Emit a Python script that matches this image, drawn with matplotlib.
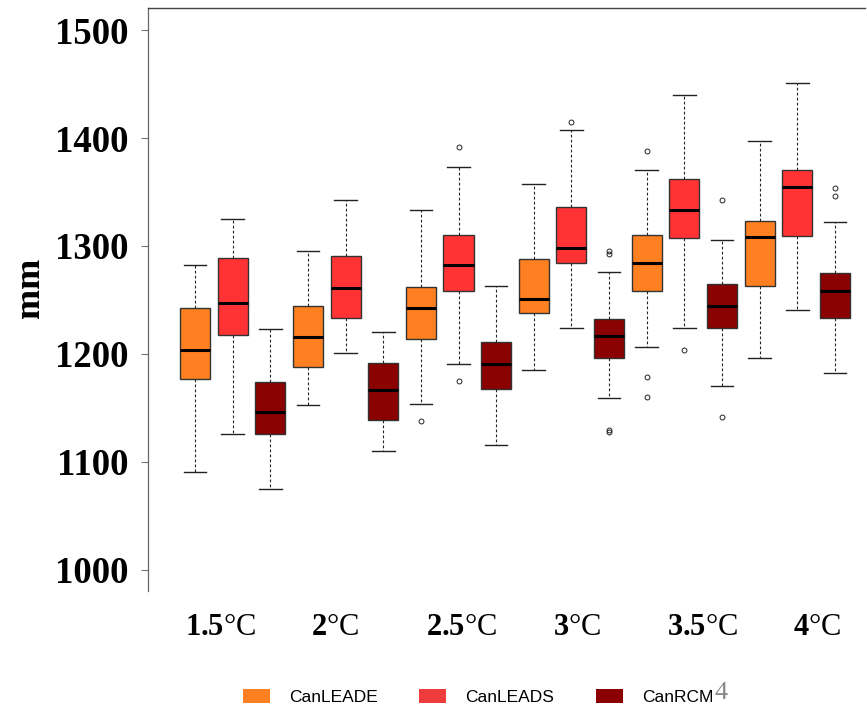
import matplotlib
matplotlib.use('Agg')
import matplotlib.pyplot as plt
from matplotlib.patches import Patch

plt.rcParams['mathtext.fontset'] = 'custom'
plt.rcParams['mathtext.rm'] = 'Liberation Serif'
plt.rcParams['mathtext.bf'] = 'Liberation Serif:bold'

# ---------------------------------------------------------------------
# data (mm), one value per warming level
# ---------------------------------------------------------------------
levels = ['1.5', '2', '2.5', '3', '3.5', '4']
models = ['CanLEADE', 'CanLEADS', 'CanRCM']

# CanLEADE
leade_whislo = [1091, 1153, 1154, 1185, 1206, 1196]
leade_q1     = [1177, 1188, 1214, 1238, 1258, 1263]
leade_med    = [1204, 1216, 1243, 1251, 1284, 1308]
leade_q3     = [1243, 1244, 1262, 1288, 1310, 1323]
leade_whishi = [1282, 1295, 1333, 1357, 1370, 1397]
leade_fliers = [[], [], [1138], [], [1388, 1179, 1160], []]

# CanLEADS
leads_whislo = [1126, 1201, 1191, 1224, 1224, 1241]
leads_q1     = [1218, 1233, 1258, 1284, 1307, 1309]
leads_med    = [1247, 1261, 1282, 1298, 1333, 1355]
leads_q3     = [1289, 1291, 1310, 1336, 1362, 1370]
leads_whishi = [1325, 1343, 1373, 1407, 1440, 1451]
leads_fliers = [[], [], [1392, 1175], [1415], [1204], []]

# CanRCM4
rcm_whislo = [1075, 1110, 1116, 1159, 1170, 1182]
rcm_q1     = [1126, 1139, 1168, 1196, 1224, 1233]
rcm_med    = [1146, 1167, 1191, 1217, 1244, 1258]
rcm_q3     = [1174, 1192, 1211, 1232, 1265, 1275]
rcm_whishi = [1223, 1220, 1263, 1276, 1306, 1322]
rcm_fliers = [[], [], [], [1295, 1293, 1130, 1128], [1343, 1142], [1354, 1346]]

colors = ['#FF8020', '#FF3333', '#8B0000']
legend_colors = ['#FF8020', '#EE3B3B', '#8B0000']

series = [
    (leade_whislo, leade_q1, leade_med, leade_q3, leade_whishi, leade_fliers),
    (leads_whislo, leads_q1, leads_med, leads_q3, leads_whishi, leads_fliers),
    (rcm_whislo, rcm_q1, rcm_med, rcm_q3, rcm_whishi, rcm_fliers),
]

# ---------------------------------------------------------------------
# figure
# ---------------------------------------------------------------------
fig = plt.figure(figsize=(8.67, 7.09), dpi=100)
ax = fig.add_axes([148 / 867, 1 - 591 / 709, 717 / 867, 583 / 709])

n_mod = len(models)
for m, (wlo, q1, med, q3, whi, fl) in enumerate(series):
    stats = []
    for i in range(len(levels)):
        stats.append(dict(whislo=wlo[i], q1=q1[i], med=med[i], q3=q3[i],
                          whishi=whi[i], fliers=fl[i]))
    pos = [1 + i * n_mod + m for i in range(len(levels))]
    ax.bxp(stats, positions=pos, widths=0.8, capwidths=0.6,
           patch_artist=True, showfliers=True,
           boxprops=dict(facecolor=colors[m], edgecolor='#333333', linewidth=1.0),
           medianprops=dict(color='black', linewidth=2.2),
           whiskerprops=dict(color='#222222', linewidth=0.8, linestyle=(0, (2.5, 2))),
           capprops=dict(color='#222222', linewidth=1.0),
           flierprops=dict(marker='o', markersize=3.5, markerfacecolor='none',
                           markeredgecolor='#222222', markeredgewidth=0.7))

ax.set_xlim(-0.25, 18.8)
ax.set_ylim(980.5, 1520.4)

# axes frame: only left and top
ax.spines['right'].set_visible(False)
ax.spines['bottom'].set_visible(False)
ax.spines['left'].set_color('#666666')
ax.spines['top'].set_color('#444444')
ax.spines['left'].set_linewidth(0.9)
ax.spines['top'].set_linewidth(1.0)

ax.set_yticks([1000, 1100, 1200, 1300, 1400, 1500])
ax.tick_params(axis='y', length=5, color='#777777', width=0.8, pad=9)
for t in ax.get_yticklabels():
    t.set_fontfamily('Liberation Serif')
    t.set_fontweight('bold')
    t.set_fontsize(26.5)

label_shift = [-0.33, -0.29, 0.09, 0.16, 0.49, 0.53]
ax.set_xticks([2 + i * n_mod + label_shift[i] for i in range(len(levels))])
ax.set_xticklabels([r'$\mathbf{' + lv + r'}$°C' for lv in levels],
                   fontfamily='Liberation Serif', fontsize=22)
ax.tick_params(axis='x', length=0, pad=16)

fig.text(30 / 867, 1 - 288 / 709, 'mm', rotation=90, ha='center', va='center',
         fontfamily='Liberation Serif', fontweight='bold', fontsize=26)

handles = [Patch(facecolor=c, edgecolor='none') for c in legend_colors]
leg = fig.legend(handles, models, loc='center', bbox_to_anchor=(478 / 867, 1 - 697 / 709),
                 ncol=3, frameon=False, prop=dict(family='Liberation Sans', size=12.5),
                 handlelength=1.55, handleheight=0.9, handletextpad=1.1,
                 columnspacing=2.4)

# the "4" after CanRCM, drawn in grey serif
fig.canvas.draw()
bb = leg.get_texts()[-1].get_window_extent()
fig.text(bb.x1 / fig.bbox.width + 0.002, bb.y0 / fig.bbox.height + 0.002, '4',
         ha='left', va='bottom', color='#888888',
         fontfamily='Liberation Serif', fontsize=19)

fig.savefig('out.png', dpi=100)
